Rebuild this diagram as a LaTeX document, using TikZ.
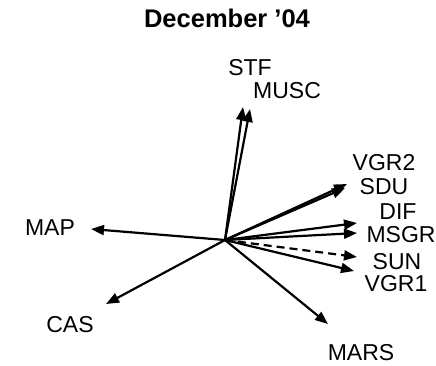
\documentclass[tikz,border=0pt]{standalone}
\usepackage{fontspec}
\setmainfont{Liberation Sans}
\usetikzlibrary{arrows.meta, positioning}
\tikzset{
  vec/.style={line width=2.2pt, -{Triangle[length=13pt,width=10pt]}},
  lbl/.style={inner sep=0pt, font=\fontsize{23}{27}\selectfont},
  ttl/.style={inner sep=0pt, font=\fontsize{25.5}{30}\selectfont\bfseries}
}

\begin{document}
\begin{tikzpicture}[x=1pt, y=-1pt]
\useasboundingbox (0,0) rectangle (436,365);

\node[ttl] (title) at (227,18) {December ’04};

\coordinate (O) at (225,240);

% arrow ends
\coordinate (STFend) at (243,107);
\coordinate (MUSCend) at (250,109);
\coordinate (VGRtwoend) at (347,184);
\coordinate (SDUend) at (345,188);
\coordinate (DIFend) at (357,223);
\coordinate (MSGRend) at (357,233);
\coordinate (SUNend) at (357,257);
\coordinate (VGRoneend) at (354,271);
\coordinate (MAPend) at (91,229);
\coordinate (CASend) at (106,304);
\coordinate (MARSend) at (328,324);

\begin{scope}
\draw[vec] (O) -- (STFend);
\draw[vec] (O) -- (MUSCend);
\draw[vec] (O) -- (VGRtwoend);
\draw[vec] (O) -- (SDUend);
\draw[vec] (O) -- (DIFend);
\draw[vec] (O) -- (MSGRend);
\draw[vec, dash pattern=on 8pt off 5pt] (O) -- (SUNend);
\draw[vec] (O) -- (VGRoneend);
\draw[vec] (O) -- (MAPend);
\draw[vec] (O) -- (CASend);
\draw[vec] (O) -- (MARSend);
\end{scope}

\node[lbl] (stf) at (250,68) {STF};
\node[lbl] (musc) at (287,91) {MUSC};
\node[lbl] (vgrtwo) at (384,163) {VGR2};
\node[lbl] (sdu) at (384,187) {SDU};
\node[lbl] (dif) at (398,212) {DIF};
\node[lbl] (msgr) at (401,235) {MSGR};
\node[lbl] (sun) at (397,262) {SUN};
\node[lbl] (vgrone) at (396,284) {VGR1};
\node[lbl] (map) at (50,228) {MAP};
\node[lbl] (cas) at (70,325) {CAS};
\node[lbl] (mars) at (361,353) {MARS};
\end{tikzpicture}
\end{document}
